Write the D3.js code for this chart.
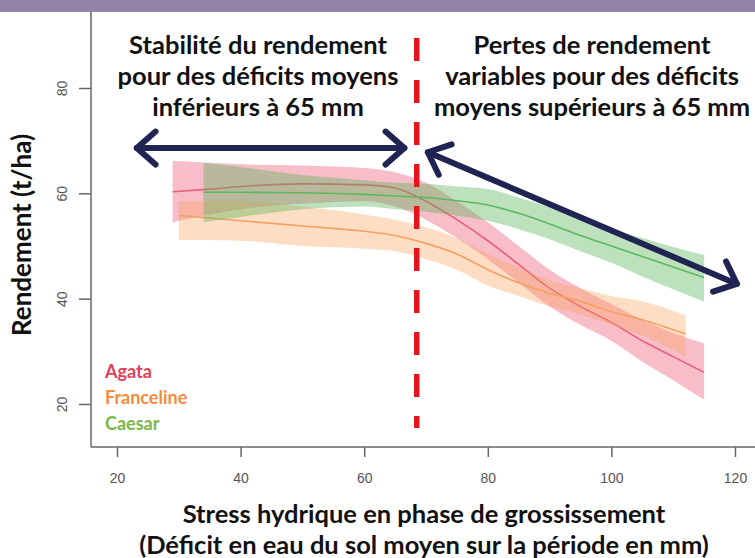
<!DOCTYPE html>
<html>
<head>
<meta charset="utf-8">
<script src="https://cdn.jsdelivr.net/npm/d3@7"></script>
<style>
  body { margin: 0; background: #fff; }
  svg { display: block; }
</style>
</head>
<body>
<svg id="rendement"></svg>
<script>
// stress hydrique (mm) and yield (t/ha)
var agataX = [29, 35, 40, 50, 60, 65, 70, 75, 80, 85, 90, 95, 100, 105, 110, 115],
    agataMean = [60.3, 60.8, 61.3, 61.8, 61.6, 61, 58.5, 55, 51, 46.5, 42, 38.5, 35.5, 32, 29, 26],
    agataLow = [54.5, 56, 57, 58, 58.5, 57.5, 55, 51.5, 47.5, 43, 38.5, 35, 32, 28, 24.5, 20.8],
    agataHigh = [66.2, 65.8, 65.5, 65.3, 64.8, 64, 62, 58.5, 54.5, 50, 45.5, 42, 39, 36, 33.5, 31.5];

var francX = [30, 40, 50, 60, 65, 70, 75, 80, 85, 90, 95, 100, 105, 112],
    francMean = [55.8, 54.8, 53.8, 52.8, 52, 50.5, 48.5, 45.5, 43, 41, 39.5, 37.5, 36, 33.3],
    francLow = [51.2, 51, 50, 49.5, 49, 47.5, 45.5, 42.5, 40.5, 38.5, 37, 35, 33, 29],
    francHigh = [58.5, 58.5, 57.5, 56, 55, 53.5, 51.5, 48.5, 46, 43.5, 42, 40.5, 39.5, 36.8];

var caesarX = [34, 40, 50, 60, 65, 70, 75, 80, 85, 90, 95, 100, 105, 110, 115],
    caesarMean = [60.2, 60.2, 60.1, 59.8, 59.5, 59.2, 58.6, 57.8, 56.2, 54.2, 52, 50, 48, 46, 44],
    caesarLow = [54.5, 55.5, 57, 57.5, 57, 56.5, 55.8, 54.8, 53.2, 51.3, 49, 46.8, 44.2, 41.8, 39.4],
    caesarHigh = [65.8, 65, 63.5, 62.5, 62, 61.8, 61.3, 60.8, 59.2, 57.3, 55.2, 53.2, 51.5, 49.8, 48.3];

var xTicks = [20, 40, 60, 80, 100, 120],
    yTicks = [20, 40, 60, 80];
var seuil = 68.5;

var varieties = [
  { name: "Agata", x: agataX, mean: agataMean, low: agataLow, high: agataHigh,
    fill: "rgba(235,90,120,0.40)", line: "#e8607a", label: "#e0405a" },
  { name: "Franceline", x: francX, mean: francMean, low: francLow, high: francHigh,
    fill: "rgba(250,160,90,0.35)", line: "#f5a060", label: "#f58a3c" },
  { name: "Caesar", x: caesarX, mean: caesarMean, low: caesarLow, high: caesarHigh,
    fill: "rgba(90,180,90,0.40)", line: "#5cb85c", label: "#7ab648" }
];

var W = 755, H = 558;
var svg = d3.select("#rendement").attr("width", W).attr("height", H);

var xScale = d3.scaleLinear().domain([20, 120]).range([117, 735]),
    yScale = d3.scaleLinear().domain([20, 80]).range([404, 88]);

var boxLeft = 91, boxBottom = 447;
var font = "Lato, 'Open Sans', sans-serif";
var navy = "#1f2452";

// bands and fitted lines
varieties.forEach(function(v) {
  var pts = v.x.map(function(d, i) { return { x: d, m: v.mean[i], lo: v.low[i], hi: v.high[i] }; });
  svg.append("path")
     .datum(pts)
     .attr("fill", v.fill)
     .attr("d", d3.area()
        .curve(d3.curveMonotoneX)
        .x(function(d) { return xScale(d.x); })
        .y0(function(d) { return yScale(d.lo); })
        .y1(function(d) { return yScale(d.hi); }));
  svg.append("path")
     .datum(pts)
     .attr("fill", "none")
     .attr("stroke", v.line)
     .attr("stroke-width", 1.6)
     .attr("d", d3.line()
        .curve(d3.curveMonotoneX)
        .x(function(d) { return xScale(d.x); })
        .y(function(d) { return yScale(d.m); }));
});

// axes box (left + bottom)
svg.append("line").attr("x1", boxLeft).attr("x2", boxLeft).attr("y1", 0).attr("y2", boxBottom)
   .attr("stroke", "#666").attr("stroke-width", 1.5);
svg.append("line").attr("x1", boxLeft).attr("x2", W).attr("y1", boxBottom).attr("y2", boxBottom)
   .attr("stroke", "#666").attr("stroke-width", 1.5);

var xAxis = svg.append("g")
   .attr("transform", "translate(0," + boxBottom + ")")
   .call(d3.axisBottom(xScale).tickValues(xTicks).tickSize(10).tickPadding(16));
xAxis.select(".domain").remove();
xAxis.selectAll("line").attr("stroke", "#666").attr("stroke-width", 1.5);
xAxis.selectAll("text").attr("fill", "#555").attr("font-size", "14px")
     .attr("font-family", "'Liberation Sans', Arial, sans-serif");

var yAxis = svg.append("g")
   .attr("transform", "translate(" + boxLeft + ",0)")
   .call(d3.axisLeft(yScale).tickValues(yTicks).tickSize(12));
yAxis.select(".domain").remove();
yAxis.selectAll("line").attr("stroke", "#666").attr("stroke-width", 1.5);
yAxis.selectAll("text")
     .attr("fill", "#555").attr("font-size", "14px")
     .attr("font-family", "'Liberation Sans', Arial, sans-serif")
     .attr("text-anchor", "middle")
     .attr("x", null).attr("dy", null)
     .attr("transform", "translate(-29,0) rotate(-90)")
     .attr("y", 5);

// purple header strip
svg.append("rect").attr("x", 0).attr("y", 0).attr("width", W).attr("height", 12)
   .attr("fill", "#9583a8");

// threshold
svg.append("line")
   .attr("x1", xScale(seuil)).attr("x2", xScale(seuil))
   .attr("y1", 38).attr("y2", 428)
   .attr("stroke", "#e8141c").attr("stroke-width", 5.5)
   .attr("stroke-dasharray", "23,19");

// arrows
function arrow(x1, y1, x2, y2) {
  var a = Math.atan2(y2 - y1, x2 - x1), L = 25, s = 0.72;
  var g = svg.append("g").attr("fill", "none").attr("stroke", navy)
     .attr("stroke-width", 6).attr("stroke-linecap", "round").attr("stroke-linejoin", "round");
  g.append("line").attr("x1", x1).attr("y1", y1).attr("x2", x2).attr("y2", y2);
  [[x2, y2, a + Math.PI], [x1, y1, a]].forEach(function(p) {
    g.append("path").attr("d", d3.line()([
      [p[0] + L * Math.cos(p[2] - s), p[1] + L * Math.sin(p[2] - s)],
      [p[0], p[1]],
      [p[0] + L * Math.cos(p[2] + s), p[1] + L * Math.sin(p[2] + s)]
    ]));
  });
}
arrow(xScale(23.2), yScale(68.6), xScale(66.5), yScale(68.6));
arrow(xScale(70.3), yScale(67.8), xScale(120.3), yScale(42.8));

// annotations
function block(cx, lines) {
  svg.append("text")
     .attr("font-family", font).attr("font-weight", "bold").attr("font-size", "25.5px")
     .attr("fill", "#111").attr("text-anchor", "middle")
     .selectAll("tspan").data(lines).enter().append("tspan")
     .attr("x", cx).attr("y", function(d, i) { return 54 + i * 31; })
     .text(function(d) { return d; });
}
block(258, ["Stabilité du rendement", "pour des déficits moyens", "inférieurs à 65 mm"]);
block(592, ["Pertes de rendement", "variables pour des déficits", "moyens supérieurs à 65 mm"]);

// legend
svg.selectAll(".leg").data(varieties).enter().append("text")
   .attr("class", "leg")
   .attr("x", 105).attr("y", function(d, i) { return 378 + i * 26; })
   .attr("font-family", font).attr("font-weight", "bold").attr("font-size", "18px")
   .attr("fill", function(d) { return d.label; })
   .text(function(d) { return d.name; });

// axis titles
svg.append("text")
   .attr("transform", "translate(31,235) rotate(-90)")
   .attr("text-anchor", "middle")
   .attr("font-family", font).attr("font-weight", "bold").attr("font-size", "26px")
   .attr("fill", "#111")
   .text("Rendement (t/ha)");

svg.append("text")
   .attr("text-anchor", "middle")
   .attr("font-family", font).attr("font-weight", "bold").attr("font-size", "25.5px")
   .attr("fill", "#111")
   .selectAll("tspan")
   .data(["Stress hydrique en phase de grossissement", "(Déficit en eau du sol moyen sur la période en mm)"])
   .enter().append("tspan")
   .attr("x", 424).attr("y", function(d, i) { return 523 + i * 31; })
   .text(function(d) { return d; });
</script>
</body>
</html>
